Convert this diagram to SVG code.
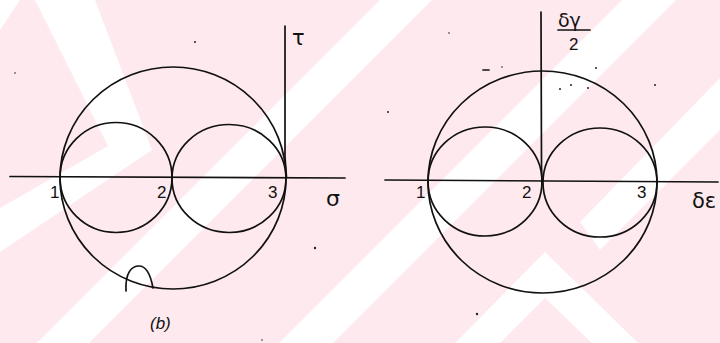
<svg xmlns="http://www.w3.org/2000/svg" width="720" height="343" viewBox="0 0 720 343">
<style>
.ln{fill:none;stroke:#111;stroke-width:1.7;stroke-linecap:round;stroke-linejoin:round}
.num{font-family:"Liberation Sans",Arial,sans-serif;font-size:17px;fill:#111}
.gr{font-family:"DejaVu Sans","Noto Sans",sans-serif;fill:#111}
.dot{fill:#222}
.wm{fill:#ffffff}
</style>
<g id="background">
<rect x="0" y="0" width="720" height="343" fill="#fde9ee"/>
<polygon class="wm" points="35,0 95,0 152,150 0,252 0,208 108,146"/>
<polygon class="wm" points="0,0 20,0 0,30"/>
<polygon class="wm" points="380,0 432,0 89,343 37,343"/>
<polygon class="wm" points="622,0 676,0 333,343 279,343"/>
<polygon class="wm" points="720,78 720,130 600,250 580,222"/>
<polygon class="wm" points="545,252 638,343 592,343 545,298 500,343 455,343"/>
</g>
<g id="left-diagram">
<g id="left-axes">
<path class="ln" d="M10,176.5 L345,178"/>
<path class="ln" d="M285,26 L285,157 L286.5,177"/>
</g>
<ellipse id="left-big-circle" class="ln" cx="173" cy="178" rx="113" ry="111"/>
<ellipse id="left-small-1" class="ln" cx="116" cy="177.5" rx="56" ry="55"/>
<ellipse id="left-small-2" class="ln" cx="229" cy="178.5" rx="57" ry="54"/>
<path id="left-hump" class="ln" d="M126,291 C125,272 132,266 139,266 C147,266 151,277 153,288"/>
<g id="left-labels">
<text class="gr" x="292" y="45" font-size="21">τ</text>
<text class="gr" x="326" y="206" font-size="22">σ</text>
<text class="num" x="50" y="198">1</text>
<text class="num" x="157" y="198">2</text>
<text class="num" x="268" y="198">3</text>
<text class="num" x="150" y="329" font-style="italic">(b)</text>
</g>
</g>
<g id="right-diagram">
<g id="right-axes">
<path class="ln" d="M385,180 L718,182"/>
<path class="ln" d="M541,12 L541.5,165 L542,184"/>
<path class="ln" d="M558,30 L590,30" stroke-width="1.3"/>
</g>
<ellipse id="right-big-circle" class="ln" cx="542.5" cy="182" rx="114.5" ry="111"/>
<ellipse id="right-small-1" class="ln" cx="485" cy="181.5" rx="57" ry="54.5"/>
<ellipse id="right-small-2" class="ln" cx="600" cy="182.5" rx="57" ry="54.5"/>
<g id="right-labels">
<text class="gr" x="558" y="27" font-size="19">δγ</text>
<text class="num" x="569" y="50" font-size="18">2</text>
<text class="gr" x="692" y="208" font-size="21">δε</text>
<text class="num" x="416" y="198">1</text>
<text class="num" x="522" y="198">2</text>
<text class="num" x="637" y="198">3</text>
</g>
</g>
<g id="specks">
<circle class="dot" cx="195" cy="42" r="1"/>
<circle class="dot" cx="15" cy="73" r="0.8"/>
<circle class="dot" cx="315" cy="248" r="1.2"/>
<circle class="dot" cx="262" cy="340" r="0.8"/>
<circle class="dot" cx="388" cy="112" r="1"/>
<circle class="dot" cx="449" cy="33" r="0.8"/>
<path class="ln" d="M483,70 L489,70" stroke-width="1.3"/>
<circle class="dot" cx="502" cy="67" r="0.8"/>
<circle class="dot" cx="596" cy="68" r="1"/>
<circle class="dot" cx="560" cy="89" r="1"/>
<circle class="dot" cx="571" cy="85" r="1"/>
<circle class="dot" cx="588" cy="88" r="1"/>
<circle class="dot" cx="655" cy="85" r="1"/>
<circle class="dot" cx="477" cy="314" r="1.2"/>
</g>
</svg>
